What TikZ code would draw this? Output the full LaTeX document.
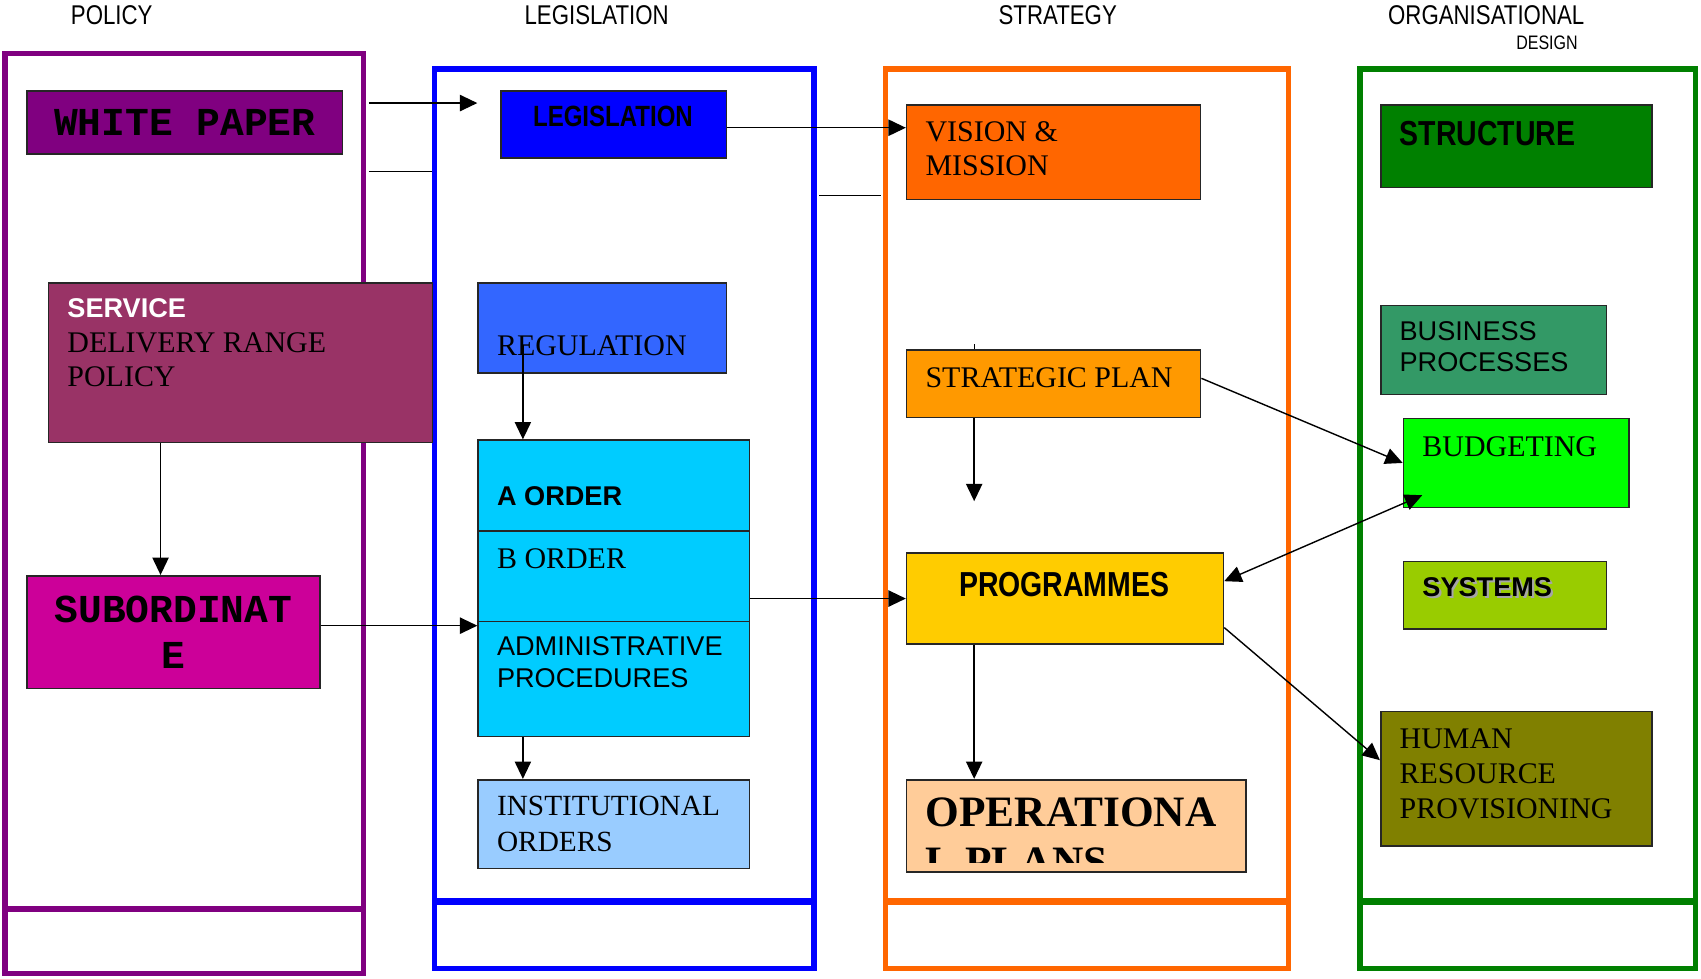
\documentclass[tikz,border=0pt]{standalone}
\usepackage{fontspec}
\setmainfont{Liberation Serif}
\setsansfont{Liberation Sans}
\setmonofont{Liberation Mono}
\newfontfamily\narrowfont[FakeStretch=0.82]{Liberation Sans}
\usetikzlibrary{arrows.meta}

% column and box colours
\definecolor{polpurple}{HTML}{800080}
\definecolor{servplum}{HTML}{993366}
\definecolor{submagenta}{HTML}{CC0099}
\definecolor{legblue}{HTML}{0000FF}
\definecolor{regblue}{HTML}{3366FF}
\definecolor{ordercyan}{HTML}{00CCFF}
\definecolor{instblue}{HTML}{99CCFF}
\definecolor{stratorange}{HTML}{FF6600}
\definecolor{planorange}{HTML}{FF9900}
\definecolor{progyellow}{HTML}{FFCC00}
\definecolor{operpeach}{HTML}{FFCC99}
\definecolor{orggreen}{HTML}{008000}
\definecolor{busgreen}{HTML}{339966}
\definecolor{budlime}{HTML}{00FF00}
\definecolor{syslime}{HTML}{99CC00}
\definecolor{humolive}{HTML}{808000}

\begin{document}
\begin{tikzpicture}[x=1pt, y=-1pt, >={Triangle[length=16pt,width=15pt]},
  block/.style={draw=black!85, line width=1.5pt, inner sep=0pt, anchor=north west},
  frame/.style={line width=5pt},
  divider/.style={line width=6pt},
  head/.style={font=\narrowfont\fontsize{25}{28}\selectfont, anchor=north, inner sep=0pt},
  serif/.style={font=\fontsize{27.6}{31.5}\selectfont, align=left, anchor=north west, inner sep=0pt},
  sans/.style={font=\sffamily\fontsize{25}{29}\selectfont, align=left, anchor=north west, inner sep=0pt},
  sansbf/.style={font=\sffamily\bfseries\fontsize{25}{29}\selectfont, anchor=north west, inner sep=0pt},
  narrowbf/.style={font=\narrowfont\bfseries\fontsize{32}{36}\selectfont, inner sep=0pt},
  mono/.style={font=\ttfamily\bfseries\fontsize{36.5}{42}\selectfont, align=center},
  link/.style={->, line width=1.3pt},
  stub/.style={line width=1.3pt}]
\useasboundingbox (0,0) rectangle (1568,902);

% column headings
\node[head] (hpol) at (103,5) {POLICY};
\node[head] (hleg) at (550,5) {LEGISLATION};
\node[head] (hstr) at (975,5) {STRATEGY};
\node[head] (horg) at (1370,5) {ORGANISATIONAL};
\node[head, font=\narrowfont\fontsize{18}{20}\selectfont] (hdes) at (1426,33) {DESIGN};

% column frames
\draw[frame, draw=polpurple] (4.5,49.5) rectangle (335,897.5);
\draw[divider, draw=polpurple] (4.5,838) -- (335,838);
\draw[frame, draw=legblue] (400.5,63.5) rectangle (750.5,893);
\draw[divider, draw=legblue] (400.5,831) -- (750.5,831);
\draw[frame, draw=stratorange] (816.5,63.5) rectangle (1188,893);
\draw[divider, draw=stratorange] (816.5,831) -- (1188,831);
\draw[frame, draw=orggreen] (1253.5,63.5) rectangle (1563,893);
\draw[divider, draw=orggreen] (1253.5,831) -- (1563,831);

% policy
\node[block, fill=polpurple, minimum width=291pt, minimum height=58pt, mono] (wp) at (24,83) {WHITE PAPER};
\node[block, fill=servplum, minimum width=354pt, minimum height=147pt] (serv) at (44,260) {};
\node[sansbf, text=white] (servhd) at (62,275) {SERVICE};
\node[serif] (servtx) at (62,306) {DELIVERY RANGE\\POLICY};
\node[block, fill=submagenta, minimum width=270pt, minimum height=104pt, mono] (sub) at (24,530) {SUBORDINAT\\E};

% legislation
\node[block, fill=legblue, minimum width=208pt, minimum height=62pt] (leg) at (461,83) {};
\node[narrowbf, font=\narrowfont\bfseries\fontsize{27}{30}\selectfont, anchor=north] (legtx) at (565,98) {LEGISLATION};
\node[block, fill=regblue, minimum width=229pt, minimum height=83pt] (reg) at (440,260) {};
\node[serif] (regtx) at (458,309) {REGULATION};
\node[block, fill=ordercyan, minimum width=250pt, minimum height=84pt] (aord) at (440,405) {};
\node[sansbf] (aordtx) at (458,448) {A ORDER};
\node[block, fill=ordercyan, minimum width=250pt, minimum height=83pt] (bord) at (440,489) {};
\node[serif] (bordtx) at (458,506) {B ORDER};
\node[block, fill=ordercyan, minimum width=250pt, minimum height=106pt] (adm) at (440,572) {};
\node[sans] (admtx) at (458,587) {ADMINISTRATIVE\\PROCEDURES};
\node[block, fill=instblue, minimum width=250pt, minimum height=82pt] (inst) at (440,718) {};
\node[serif, font=\fontsize{27}{32.5}\selectfont] (insttx) at (458,734) {INSTITUTIONAL\\ORDERS};

% strategy
\node[block, fill=stratorange, minimum width=271pt, minimum height=87pt] (vis) at (835,96) {};
\node[serif] (vistx) at (853,112) {VISION \&\\MISSION};
\node[block, fill=planorange, minimum width=271pt, minimum height=62pt] (strat) at (835,322) {};
\node[serif] (strattx) at (853,339) {STRATEGIC PLAN};
\node[block, fill=progyellow, minimum width=292pt, minimum height=84pt] (prog) at (835,509) {};
\node[narrowbf, anchor=north] (progtx) at (981,527) {PROGRAMMES};
\node[block, fill=operpeach, minimum width=313pt, minimum height=85pt] (oper) at (835,718) {};
\begin{scope}
  \clip (835,718) rectangle (1148,795);
  \node[serif, font=\bfseries\fontsize{40}{46}\selectfont] (opertx) at (853,735) {OPERATIONA\\L PLANS};
\end{scope}

% organisational design
\node[block, fill=orggreen, minimum width=250pt, minimum height=76pt] (struc) at (1272,96) {};
\node[narrowbf, anchor=north west] (structx) at (1290,112) {STRUCTURE};
\node[block, fill=busgreen, minimum width=208pt, minimum height=82pt] (bus) at (1272,281) {};
\node[sans] (bustx) at (1290,296) {BUSINESS\\PROCESSES};
\node[block, fill=budlime, minimum width=208pt, minimum height=82pt] (bud) at (1293,385) {};
\node[serif] (budtx) at (1311,402) {BUDGETING};
\node[block, fill=syslime, minimum width=187pt, minimum height=62pt] (sys) at (1293,517) {};
\node[sansbf, text=black!35] (syssh) at (1313,534) {SYSTEMS};
\node[sansbf] (systx) at (1311,532) {SYSTEMS};
\node[block, fill=humolive, minimum width=250pt, minimum height=124pt] (hum) at (1272,655) {};
\node[serif, font=\fontsize{27.6}{32}\selectfont] (humtx) at (1290,672) {HUMAN\\RESOURCE\\PROVISIONING};

% free ends of the connectors
\coordinate (wpout) at (340,95);
\coordinate (legin) at (440,95);
\coordinate (polgap) at (340,158);
\coordinate (leggap) at (398,158);
\coordinate (leggap2) at (755,180);
\coordinate (stratgap) at (812,180);
\coordinate (regtail) at (482,318);
\coordinate (planend) at (898,462);

% connectors
\draw[link] (wpout) -- (legin);
\draw[stub] (polgap) -- (leggap);
\draw[link] ([yshift=-3pt]leg.east) -- ([yshift=-3pt]vis.west |- leg.east);
\draw[stub] (leggap2) -- (stratgap);
\draw[link] (148,0 |- serv.south) -- (148,0 |- sub.north);
\draw[link] ([yshift=6pt]sub.east) -- ([yshift=6pt]adm.west |- sub.east);
\draw[link] (regtail) -- (482,0 |- aord.north);
\draw[link] (482,0 |- adm.south) -- (482,0 |- inst.north);
\draw[link] (bord.east |- prog.west) -- (prog.west);
\draw[stub, line width=1pt] (898,0 |- strat.north) -- ++(0,-5);
\draw[link] (898,0 |- strat.south) -- (planend);
\draw[link] ([yshift=5pt]strat.east) -- (bud.west);
\draw[link, <->] ([yshift=16pt]prog.east) -- ([shift={(18pt,12pt)}]bud.south west);
\draw[link] ([yshift=16pt]prog.south east) -- ([yshift=17pt]hum.west);
\draw[link] (898,0 |- prog.south) -- (898,0 |- oper.north);
\end{tikzpicture}
\end{document}
